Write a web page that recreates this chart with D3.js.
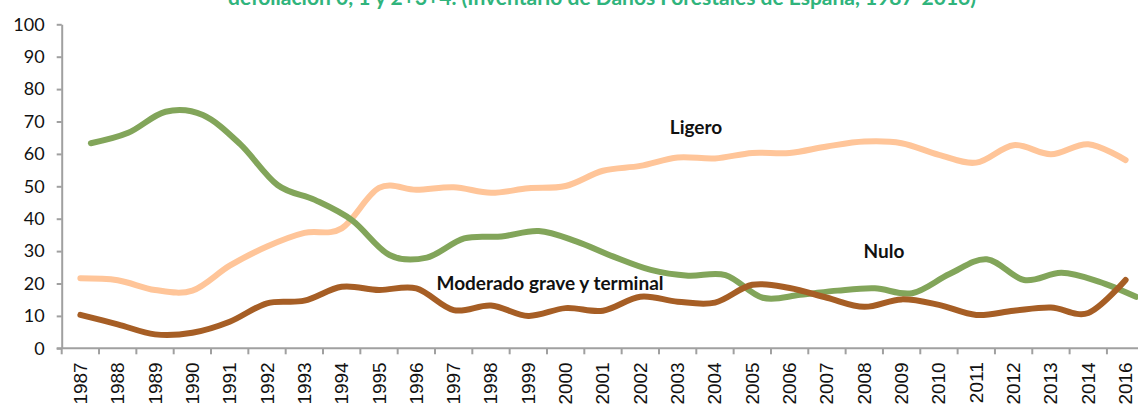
<!DOCTYPE html>
<html>
<head>
<meta charset="utf-8">
<script src="https://cdn.jsdelivr.net/npm/d3@7/dist/d3.min.js"></script>
<style>
  body { margin: 0; background: #fff; }
  svg { display: block; }
  .axis path, .axis line { stroke: #a0a0a0; stroke-width: 2; }
  .yaxis text { font-family: Lato, sans-serif; font-size: 18px; fill: #111; }
  .xaxis text { font-family: "Liberation Sans", Arial, sans-serif; font-size: 19px; fill: #111; }
  .line { fill: none; stroke-width: 6; stroke-linecap: round; stroke-linejoin: round; }
  .lbl { font-family: Lato, sans-serif; font-weight: bold; font-size: 19px; fill: #111; }
</style>
</head>
<body>
<div id="graph"></div>
<script>
// categories (2015 is not in the source table)
var years = ['1987','1988','1989','1990','1991','1992','1993','1994','1995','1996',
  '1997','1998','1999','2000','2001','2002','2003','2004','2005','2006',
  '2007','2008','2009','2010','2011','2012','2013','2014','2016'];

// % of trees per defoliation class
var nulo = [63.3, 66.5, 73, 72, 63, 50.4, 45.8, 39.5, 28.8, 28,
  33.9, 34.5, 36.2, 33, 28.3, 24.2, 22.4, 22.6, 15.6, 16.5,
  17.8, 18.5, 17, 22.9, 27.5, 21.1, 23.3, 20.6, 15.9];
var ligero = [21.6, 21, 18, 17.8, 25.5, 31.4, 35.6, 37, 49.5, 48.9,
  49.7, 48, 49.4, 50.1, 54.8, 56.3, 58.9, 58.6, 60.3, 60.3,
  62.3, 63.8, 63.3, 59.7, 57.3, 62.7, 59.9, 63, 58.1];
var moderado = [10.3, 7.4, 4.3, 4.8, 8.2, 13.9, 14.7, 19, 18, 18.5,
  11.8, 13.2, 10, 12.4, 11.6, 15.9, 14.4, 14.1, 19.6, 18.6,
  15.6, 12.8, 15.1, 13.4, 10.3, 11.6, 12.6, 10.9, 21.1];

var yTicks = [0, 10, 20, 30, 40, 50, 60, 70, 80, 90, 100];

var title = 'defoliación 0, 1 y 2+3+4. (Inventario de Daños Forestales de España, 1987-2016)';

// graph dimensions (the right edge is cropped by the window)
var W = 1138, H = 406;
var margin = {left: 61.7, top: 24.3, bottom: 348.3};
var bandW = 37.33;

var svg = d3.select('#graph').append('svg')
  .attr('width', W)
  .attr('height', H);

// scales
var x = d3.scaleBand().domain(years)
  .range([margin.left, margin.left + bandW * years.length]).padding(0);
// the Nulo series sits on a secondary category axis, offset a bit to the right
var x2 = d3.scaleBand().domain(years)
  .range([margin.left + 10.5, margin.left + 10.5 + bandW * years.length]).padding(0);
var y = d3.scaleLinear().domain([0, 100]).range([margin.bottom, margin.top]);

// title (only its lower part shows in the crop)
svg.append('text')
  .attr('x', 228)
  .attr('y', 5)
  .style('font-family', 'Lato, sans-serif')
  .style('font-weight', 'bold')
  .style('font-size', '21px')
  .style('fill', '#30b47c')
  .text(title);

// y axis
svg.append('g')
  .attr('class', 'axis yaxis')
  .attr('transform', 'translate(' + margin.left + ',0)')
  .call(d3.axisLeft(y).tickValues(yTicks).tickSize(5).tickSizeOuter(0).tickPadding(12));

// x axis: labels centred on categories, tick marks on band edges
var xAxis = svg.append('g')
  .attr('class', 'axis xaxis')
  .attr('transform', 'translate(0,' + margin.bottom + ')');

xAxis.append('line')
  .attr('x1', margin.left - 5).attr('x2', W)
  .attr('y1', 0).attr('y2', 0);

xAxis.selectAll('.tk')
  .data(years)
  .enter().append('line')
    .attr('class', 'tk')
    .attr('x1', function(d) { return x(d); })
    .attr('x2', function(d) { return x(d); })
    .attr('y1', 0).attr('y2', 6);

xAxis.selectAll('.lb')
  .data(years)
  .enter().append('text')
    .attr('class', 'lb')
    .attr('text-anchor', 'end')
    .attr('dominant-baseline', 'central')
    .attr('transform', function(d) {
      return 'translate(' + (x(d) + x.bandwidth() / 2) + ',14) rotate(-90)';
    })
    .text(function(d) { return d; });

// lines
function makeLine(scale) {
  return d3.line()
    .x(function(d, i) { return scale(years[i]) + scale.bandwidth() / 2; })
    .y(function(d) { return y(d); })
    .curve(d3.curveCardinal.tension(0));
}

var series = [
  { name: 'ligero', values: ligero, color: '#ffc599', scale: x },
  { name: 'nulo', values: nulo, color: '#82a55a', scale: x2 },
  { name: 'moderado', values: moderado, color: '#a65e25', scale: x }
];

series.forEach(function(s) {
  svg.append('path')
    .datum(s.values)
    .attr('class', 'line')
    .attr('stroke', s.color)
    .attr('d', makeLine(s.scale));
});

// series labels
svg.append('text').attr('class', 'lbl')
  .attr('x', 696).attr('y', 126)
  .attr('text-anchor', 'middle').attr('dominant-baseline', 'central')
  .text('Ligero');

svg.append('text').attr('class', 'lbl')
  .attr('x', 884).attr('y', 250)
  .attr('text-anchor', 'middle').attr('dominant-baseline', 'central')
  .text('Nulo');

svg.append('text').attr('class', 'lbl')
  .attr('x', 550).attr('y', 282)
  .attr('text-anchor', 'middle').attr('dominant-baseline', 'central')
  .text('Moderado grave y terminal');
</script>
</body>
</html>
